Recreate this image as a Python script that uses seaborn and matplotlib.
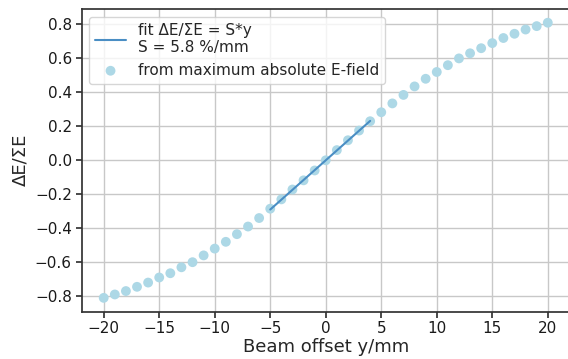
import numpy as np
import matplotlib
matplotlib.use("Agg")
import matplotlib.pyplot as plt
import seaborn as sns
import pandas as pd

offsets = list(range(-20, 21))
ratio = [-0.81, -0.79, -0.77, -0.745, -0.72, -0.69, -0.665, -0.63, -0.60, -0.56,
         -0.52, -0.48, -0.435, -0.39, -0.34, -0.285, -0.23, -0.172, -0.118, -0.06,
         0.0, 0.06, 0.118, 0.175, 0.23, 0.283, 0.335, 0.385, 0.435, 0.48,
         0.52, 0.56, 0.60, 0.63, 0.66, 0.69, 0.72, 0.745, 0.77, 0.79, 0.81]
fit_x = [-5, 4]
slope = 0.058
fit_y = [slope * v for v in fit_x]

sns.set_theme(style="ticks")
plt.rcParams['font.family'] = ['DejaVu Sans']

fig = plt.figure(figsize=(5.68, 3.59), dpi=100)
ax = fig.add_axes([0.1435, 0.132, 0.86, 0.843])

df = pd.DataFrame({"x": offsets, "y": ratio})
dfit = pd.DataFrame({"x": fit_x, "y": fit_y})
sns.lineplot(data=dfit, x="x", y="y", ax=ax, color="#4a8ec4", linewidth=1.5,
             label="fit \u0394E/\u03a3E = S*y\nS = 5.8 %/mm")
sns.scatterplot(data=df, x="x", y="y", ax=ax, color="#add8e6", s=50, edgecolor="none",
                label="from maximum absolute E-field")

ax.set_xlim(-22, 22)
ax.set_ylim(-0.891, 0.891)
ax.set_xticks([-20, -15, -10, -5, 0, 5, 10, 15, 20])
ax.set_yticks([-0.8, -0.6, -0.4, -0.2, 0.0, 0.2, 0.4, 0.6, 0.8])
ax.grid(True, color="#c8c8c8", linewidth=1)
ax.set_axisbelow(True)
ax.tick_params(labelsize=11, color="#333333", length=4, labelcolor="#1a1a1a", pad=3)
for s in ax.spines.values():
    s.set_color("#333333")
ax.set_xlabel("Beam offset y/mm", fontsize=13, labelpad=1)
ax.set_ylabel("\u0394E/\u03a3E", fontsize=13)
ax.legend(loc="upper left", fontsize=11, frameon=True)

fig.savefig("out.png", dpi=100)
